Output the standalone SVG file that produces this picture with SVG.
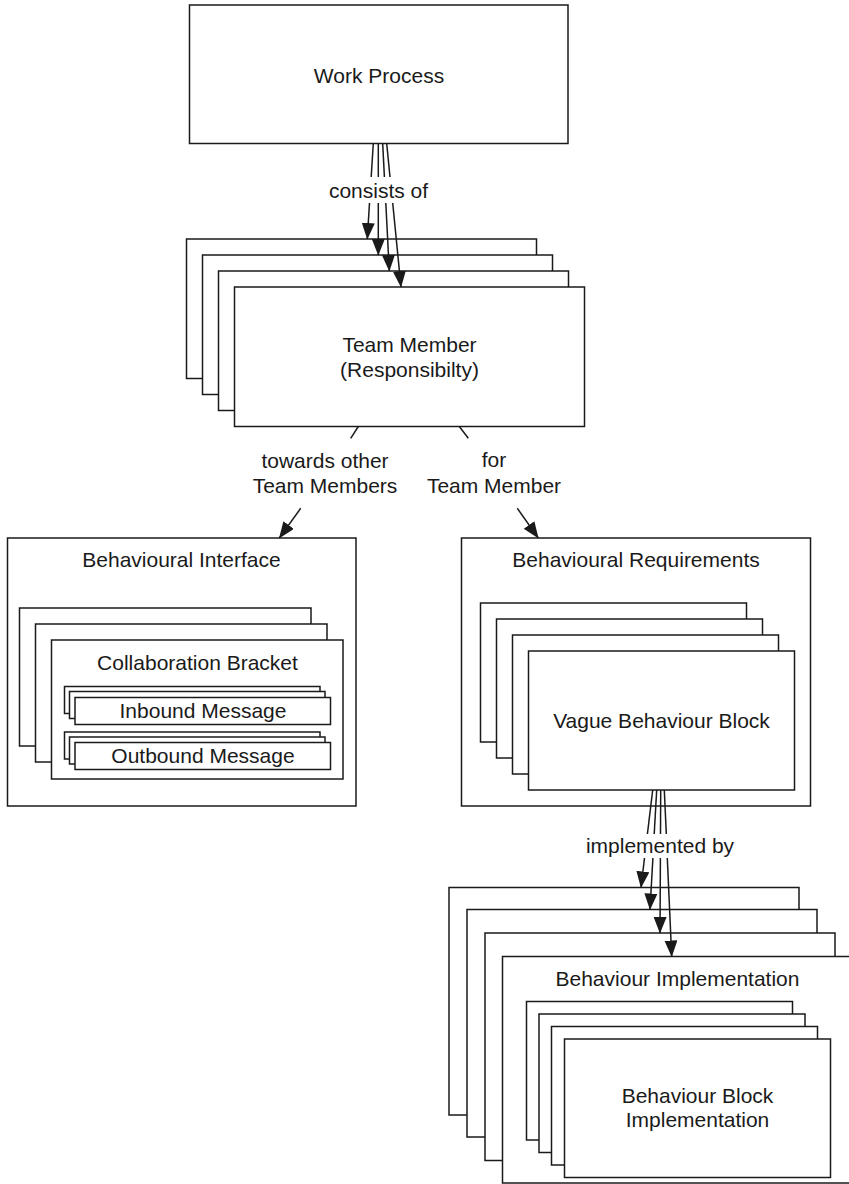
<svg xmlns="http://www.w3.org/2000/svg" width="849" height="1184" viewBox="0 0 849 1184">
<style>
  .box { fill: #fff; stroke: #1a1a1a; stroke-width: 1.5; }
  .t { font-family: "Liberation Sans", Arial, Helvetica, sans-serif; font-size: 21px; fill: #1a1a1a; text-anchor: middle; }
  .c { fill: none; stroke: #1a1a1a; stroke-width: 1.5; }
  .a { fill: none; stroke: #1a1a1a; stroke-width: 1.5; marker-end: url(#arr); }
</style>
<defs>
  <marker id="arr" markerUnits="userSpaceOnUse" markerWidth="18" markerHeight="14" refX="16" refY="6.5" orient="auto">
    <path d="M0,0 L16.5,6.5 L0,13 z" fill="#1a1a1a"/>
  </marker>
</defs>
<rect width="849" height="1184" fill="#fff"/>

<g id="work-process">
  <rect class="box" x="189.5" y="5" width="378.5" height="138.5"/>
  <text class="t" x="379" y="82.5">Work Process</text>
</g>

<g id="team-member">
  <rect class="box" x="186.5" y="239" width="350" height="139.5"/>
  <rect class="box" x="202.5" y="255" width="350" height="139.5"/>
  <rect class="box" x="218.5" y="271" width="350" height="139.5"/>
  <rect class="box" x="234.5" y="287" width="350" height="139.5"/>
  <text class="t" x="409.5" y="352">Team Member</text>
  <text class="t" x="409.5" y="377">(Responsibilty)</text>
</g>

<g id="behavioural-interface">
  <rect class="box" x="7.5" y="538" width="348.5" height="268"/>
  <text class="t" x="181.5" y="567">Behavioural Interface</text>
  <g id="collaboration-bracket">
    <rect class="box" x="19.5" y="608" width="291.5" height="138"/>
    <rect class="box" x="35.5" y="624" width="291.5" height="138"/>
    <rect class="box" x="51.5" y="640" width="291.5" height="139"/>
    <text class="t" x="197.5" y="670">Collaboration Bracket</text>
    <g id="inbound-message">
      <rect class="box" x="64.5" y="686.5" width="255.5" height="27"/>
      <rect class="box" x="69.5" y="691.5" width="255.5" height="27"/>
      <rect class="box" x="75" y="697.5" width="255.5" height="27"/>
      <text class="t" x="203" y="718">Inbound Message</text>
    </g>
    <g id="outbound-message">
      <rect class="box" x="64.5" y="732" width="255.5" height="27"/>
      <rect class="box" x="69.5" y="737" width="255.5" height="27"/>
      <rect class="box" x="75" y="742.5" width="255.5" height="27"/>
      <text class="t" x="203" y="763">Outbound Message</text>
    </g>
  </g>
</g>

<g id="behavioural-requirements">
  <rect class="box" x="461.5" y="538" width="349" height="268"/>
  <text class="t" x="636" y="567">Behavioural Requirements</text>
  <g id="vague-behaviour-block">
    <rect class="box" x="480.5" y="603" width="266" height="139"/>
    <rect class="box" x="496.5" y="619" width="266" height="139"/>
    <rect class="box" x="512.5" y="635" width="266" height="139"/>
    <rect class="box" x="528.5" y="651" width="266" height="139"/>
    <text class="t" x="661.5" y="728">Vague Behaviour Block</text>
  </g>
</g>

<g id="behaviour-implementation">
  <rect class="box" x="449" y="887.5" width="350" height="227.5"/>
  <rect class="box" x="467" y="909.5" width="350" height="227.5"/>
  <rect class="box" x="485" y="933" width="350" height="227.5"/>
  <rect class="box" x="502.5" y="956.5" width="350" height="226.5"/>
  <text class="t" x="677.5" y="986">Behaviour Implementation</text>
  <g id="behaviour-block-implementation">
    <rect class="box" x="526.5" y="1001.5" width="266" height="138.5"/>
    <rect class="box" x="539" y="1014" width="266" height="138.5"/>
    <rect class="box" x="551.5" y="1026.5" width="266" height="138.5"/>
    <rect class="box" x="564.5" y="1039" width="266" height="138.5"/>
    <text class="t" x="697.5" y="1103">Behaviour Block</text>
    <text class="t" x="697.5" y="1127">Implementation</text>
  </g>
</g>

<g id="connectors">
  <!-- consists of -->
  <line class="c" x1="373.3" y1="143.5" x2="371.2" y2="177"/>
  <line class="a" x1="369.5" y1="203" x2="367.3" y2="239"/>
  <line class="c" x1="378.3" y1="143.5" x2="378.3" y2="177"/>
  <line class="a" x1="378.3" y1="203" x2="378.3" y2="255"/>
  <line class="c" x1="382.7" y1="143.5" x2="384.4" y2="177"/>
  <line class="a" x1="385.8" y1="203" x2="389.3" y2="271"/>
  <line class="c" x1="386.7" y1="143.5" x2="390" y2="177"/>
  <line class="a" x1="392.7" y1="203" x2="401" y2="287"/>
  <text class="t" x="378.5" y="198">consists of</text>

  <!-- towards other Team Members -->
  <line class="c" x1="358.3" y1="426.5" x2="350.7" y2="438.3"/>
  <line class="a" x1="300.7" y1="508.3" x2="279.3" y2="538"/>
  <text class="t" x="325" y="468">towards other</text>
  <text class="t" x="325" y="493">Team Members</text>

  <!-- for Team Member -->
  <line class="c" x1="459.3" y1="426.5" x2="468.3" y2="438.3"/>
  <line class="a" x1="517.3" y1="508.3" x2="538.3" y2="538"/>
  <text class="t" x="494" y="467">for</text>
  <text class="t" x="494" y="493">Team Member</text>

  <!-- implemented by -->
  <line class="c" x1="652.7" y1="790" x2="647.4" y2="834"/>
  <line class="a" x1="644.5" y1="858" x2="641" y2="887.5"/>
  <line class="c" x1="656.7" y1="790" x2="654.2" y2="834"/>
  <line class="a" x1="652.9" y1="858" x2="650" y2="909.5"/>
  <line class="c" x1="660.7" y1="790" x2="660.5" y2="834"/>
  <line class="a" x1="660.4" y1="858" x2="660" y2="933"/>
  <line class="c" x1="664.3" y1="790" x2="666.3" y2="834"/>
  <line class="a" x1="667.3" y1="858" x2="671.7" y2="956.5"/>
  <text class="t" x="660" y="853">implemented by</text>
</g>
</svg>
